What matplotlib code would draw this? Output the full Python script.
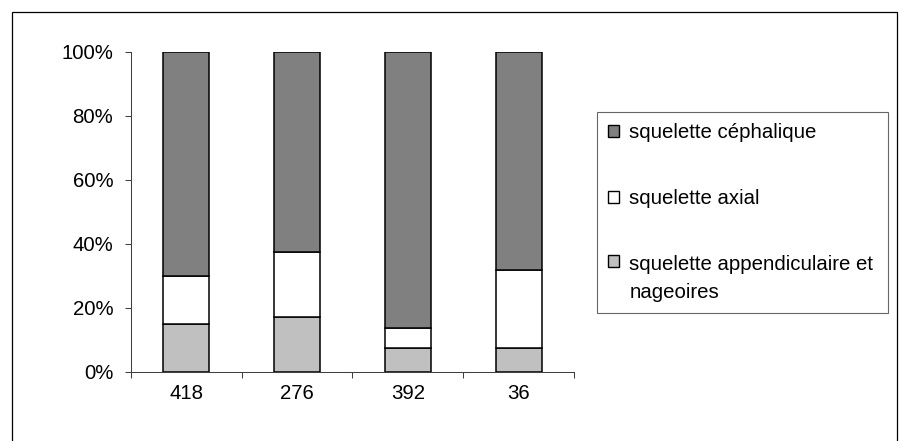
import matplotlib
matplotlib.use("Agg")
import matplotlib.pyplot as plt
from matplotlib.patches import Rectangle
from matplotlib.ticker import PercentFormatter, FixedLocator
import numpy as np

categories = ["418", "276", "392", "36"]
series_names = ["squelette céphalique", "squelette axial",
                "squelette appendiculaire et\nnageoires"]
appendiculaire = [15.0, 17.0, 7.5, 7.5]
axial = [15.0, 20.5, 6.25, 24.4]
cephalique = [70.0, 62.5, 86.25, 68.1]
colors = {"ceph": "#808080", "axial": "#ffffff", "app": "#c0c0c0"}

plt.rcParams['font.family'] = ['Liberation Sans', 'DejaVu Sans']

W, H = 903, 441
FS = 14.7
fig = plt.figure(figsize=(W / 100, H / 100), dpi=100)
ax = fig.add_axes([130.7 / W, 1 - 371.7 / H, (574.3 - 130.7) / W, (371.7 - 51.7) / H])

x = np.arange(len(categories))
bw = 0.41
lw = 1.1
app = np.array(appendiculaire)
axl = np.array(axial)
cep = np.array(cephalique)
b1 = ax.bar(x, app, bw, color=colors["app"], edgecolor="black", linewidth=lw, zorder=3)
b2 = ax.bar(x, axl, bw, bottom=app, color=colors["axial"], edgecolor="black", linewidth=lw, zorder=3)
b3 = ax.bar(x, cep, bw, bottom=app + axl, color=colors["ceph"], edgecolor="black", linewidth=lw, zorder=3)

ax.set_xlim(-0.5, len(categories) - 0.5)
ax.set_ylim(0, 100)
ax.set_yticks(np.arange(0, 101, 20))
ax.yaxis.set_major_formatter(PercentFormatter(decimals=0))
ax.tick_params(axis='y', direction='out', length=4.5, width=0.75, color='#404040',
               labelsize=FS, pad=8)

ax.xaxis.set_major_locator(FixedLocator(np.arange(-0.5, len(categories), 1.0)))
ax.xaxis.set_minor_locator(FixedLocator(x))
ax.set_xticklabels([], minor=False)
ax.set_xticklabels(categories, minor=True)
ax.tick_params(axis='x', which='major', direction='out', length=4, width=0.75, color='#404040')
ax.tick_params(axis='x', which='minor', length=0, labelsize=FS, pad=9)

for s in ["top", "right"]:
    ax.spines[s].set_visible(False)
for s in ["left", "bottom"]:
    ax.spines[s].set_color('#404040')
    ax.spines[s].set_linewidth(0.75)

leg = fig.legend([b3, b2, b1], series_names,
                 loc='upper left',
                 bbox_to_anchor=(596.7 / W, 1 - 116.2 / H, (888.3 - 596.7) / W, 0.01),
                 mode='expand', fontsize=FS, frameon=True, fancybox=False,
                 edgecolor='#404040', handlelength=0.55, handleheight=0.55,
                 handletextpad=0.5, labelspacing=2.3, borderpad=0.55,
                 borderaxespad=0)
leg.get_frame().set_linewidth(0.8)
for h in leg.legend_handles:
    h.set_linewidth(1.0)
leg.get_texts()[2].set_linespacing(1.6)
# align marker of the two-line entry with its first line
try:
    rows = leg._legend_handle_box.get_children()[0].get_children()
    rows[2].align = "top"
except Exception:
    pass

fig.add_artist(Rectangle((11.7 / W, -0.1), (896.7 - 11.7) / W, 1.1 - 11.7 / H,
                         transform=fig.transFigure, fill=False,
                         edgecolor='black', linewidth=0.9))

fig.savefig("out.png", dpi=100)
